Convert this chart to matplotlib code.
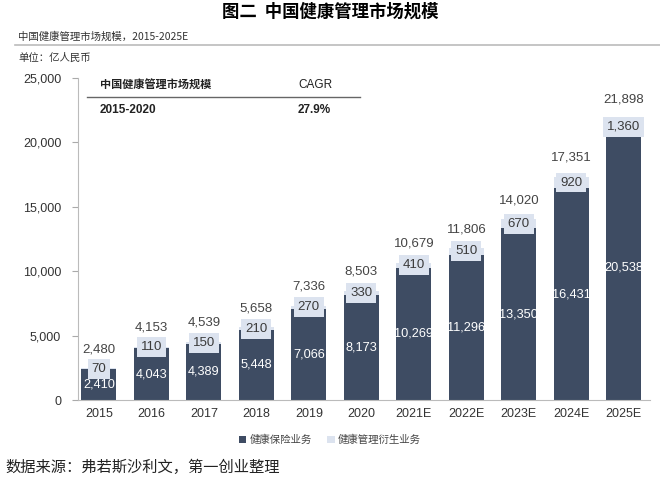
import matplotlib.pyplot as plt
import numpy as np

plt.rcParams['font.family'] = ['Liberation Sans', 'Noto Sans CJK SC', 'DejaVu Sans']

# 数据
years = ['2015', '2016', '2017', '2018', '2019', '2020',
         '2021E', '2022E', '2023E', '2024E', '2025E']
insurance = [2410, 4043, 4389, 5448, 7066, 8173, 10269, 11296, 13350, 16431, 20538]
derived = [70, 110, 150, 210, 270, 330, 410, 510, 670, 920, 1360]
totals = [2480, 4153, 4539, 5658, 7336, 8503, 10679, 11806, 14020, 17351, 21898]
yticks = [0, 5000, 10000, 15000, 20000, 25000]

dark = '#3e4c63'
light = '#dce3ef'
cjk = ['Noto Sans CJK SC', 'DejaVu Sans']

fig = plt.figure(figsize=(6.6, 4.82), dpi=100)
ax = fig.add_axes([0.118, 0.170, 0.867, 0.668])

x = np.arange(len(years))
w = 0.67
ax.bar(x, insurance, w, color=dark, label='健康保险业务')
ax.bar(x, derived, w, bottom=insurance, color=light, label='健康管理衍生业务')

for i in range(len(years)):
    ax.text(x[i], insurance[i] / 2, f'{insurance[i]:,}', ha='center', va='center',
            color='white', fontsize=9.2)
    ax.text(x[i], insurance[i] + derived[i] / 2, f'{derived[i]:,}', ha='center', va='center',
            color='#3a3a3a', fontsize=9.5,
            bbox=dict(boxstyle='square,pad=0.3', fc=light, ec='none'))
    ax.text(x[i], totals[i] + 1000, f'{totals[i]:,}', ha='center', va='bottom',
            color='#444444', fontsize=9.5)

ax.set_xlim(-0.4, 10.5)
ax.set_ylim(0, 25000)
ax.set_yticks(yticks)
ax.set_yticklabels([f'{v:,}' for v in yticks], fontsize=9, color='#333333')
ax.set_xticks(x)
ax.set_xticklabels(years, fontsize=9, color='#333333')
ax.tick_params(axis='x', length=0, pad=6)
ax.tick_params(axis='y', length=4, color='#aaaaaa', pad=8)
for s in ['top', 'right']:
    ax.spines[s].set_visible(False)
ax.spines['left'].set_color('#bbbbbb')
ax.spines['bottom'].set_color('#bbbbbb')

# 表格
fig.text(100 / 660, 1 - 85 / 482, '中国健康管理市场规模', fontsize=8, fontweight='bold',
         family=cjk, va='center', color='#222222')
fig.text(298 / 660, 1 - 85 / 482, 'CAGR', fontsize=8.5, va='center', color='#222222')
fig.add_artist(plt.Line2D([87 / 660, 360 / 660], [1 - 97 / 482, 1 - 97 / 482],
                          color='#666666', lw=1))
fig.text(100 / 660, 1 - 110 / 482, '2015-2020', fontsize=8.5, fontweight='bold',
         va='center', color='#222222')
fig.text(298 / 660, 1 - 110 / 482, '27.9%', fontsize=8.5, fontweight='bold',
         va='center', color='#222222')

# 标题
fig.text(0.5, 1 - 12 / 482, '图二  中国健康管理市场规模', ha='center', va='center',
         fontsize=12.5, fontweight='bold', family=cjk)
fig.text(18 / 660, 1 - 37 / 482, '中国健康管理市场规模，2015-2025E', va='center',
         fontsize=7.5, family=cjk, color='#333333')
fig.add_artist(plt.Line2D([15 / 660, 1.0], [1 - 45 / 482, 1 - 45 / 482],
                          color='#bbbbbb', lw=1.2))
fig.text(18 / 660, 1 - 58 / 482, '单位：亿人民币', va='center',
         fontsize=7.5, family=cjk, color='#333333')

leg = fig.legend(loc='center', bbox_to_anchor=(0.5, 1 - 440 / 482), ncol=2,
                 frameon=False, prop={'family': cjk, 'size': 7.5},
                 handlelength=0.7, handleheight=0.7, handletextpad=0.3, columnspacing=1.5)
for t in leg.get_texts():
    t.set_color('#444444')

fig.text(5 / 660, 1 - 467 / 482, '数据来源：弗若斯沙利文，第一创业整理', va='center',
         fontsize=11, family=cjk, color='#222222')

plt.savefig('out.png', dpi=100)
